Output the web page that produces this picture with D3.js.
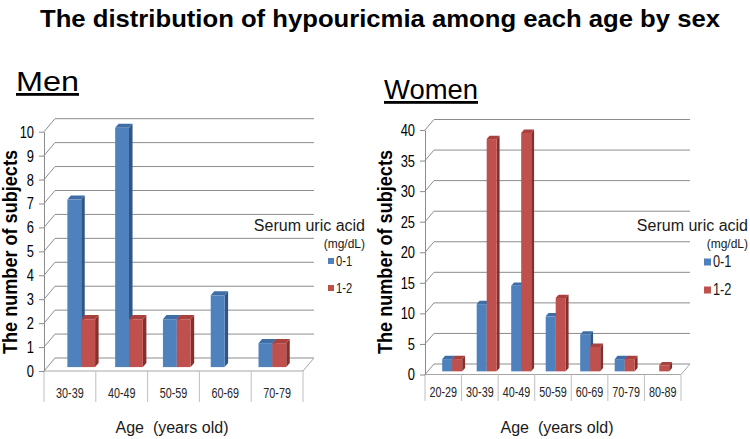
<!DOCTYPE html>
<html>
<head>
<meta charset="utf-8">
<script src="https://cdn.jsdelivr.net/npm/d3@7"></script>
<style>
  body { margin: 0; background: #fff; }
  text { font-family: "Liberation Sans", Arial, sans-serif; }
</style>
</head>
<body>
<div id="plot"></div>
<script>
// data
let seriesNames = ['0-1', '1-2'];

let menAges = ['30-39', '40-49', '50-59', '60-69', '70-79'];
let menLow = [7, 10, 2, 3, 1];   // serum uric acid 0-1
let menHigh = [2, 2, 2, 0, 1];   // serum uric acid 1-2
let menTicks = [0, 1, 2, 3, 4, 5, 6, 7, 8, 9, 10];

let womenAges = ['20-29', '30-39', '40-49', '50-59', '60-69', '70-79', '80-89'];
let womenLow = [2, 11, 14, 9, 6, 2, 0];
let womenHigh = [2, 38, 39, 12, 4, 2, 1];
let womenTicks = [0, 5, 10, 15, 20, 25, 30, 35, 40];

let width = 750, height = 439;

const colors = d3.scaleOrdinal()
  .domain(seriesNames)
  .range([
    { front: '#4f81bd', top: '#3f6ea6', side: '#2f5687' },
    { front: '#c0504d', top: '#a9413e', side: '#85302d' }
  ]);

let svg = d3.select('#plot')
  .append('svg')
  .attr('width', width)
  .attr('height', height)
  .style('background', '#fff');

svg.append('text')
  .attr('x', 380)
  .attr('y', 27)
  .attr('text-anchor', 'middle')
  .attr('font-size', 24)
  .attr('font-weight', 'bold')
  .attr('textLength', 680)
  .attr('lengthAdjust', 'spacingAndGlyphs')
  .text('The distribution of hypouricmia among each age by sex');

function drawPanel(p) {
  let g = svg.append('g');

  let yScale = d3.scaleLinear()
    .domain([0, p.max])
    .range([p.y0, p.yTop]);

  let xScale = d3.scaleBand()
    .domain(p.ages)
    .range([p.x0, p.x1]);

  let groupScale = d3.scaleBand()
    .domain(p.ages)
    .range([p.x0, p.x1])
    .padding(0.42);

  let subScale = d3.scaleBand()
    .domain(seriesNames)
    .range([0, groupScale.bandwidth()]);

  // project a front point back by fraction f of the depth
  let pt = (x, y, f) => [x + f * p.dx, y + f * p.dy];

  // walls: side diagonal + back gridline for each tick
  p.ticks.forEach(t => {
    let y = yScale(t);
    let b = pt(p.x0, y, 1);
    g.append('path')
      .attr('d', `M${p.x0},${y}L${b[0]},${b[1]}L${p.x1 + p.dx},${b[1]}`)
      .attr('fill', 'none')
      .attr('stroke', '#8c8c8c')
      .attr('stroke-width', 1);
  });

  // floor front edge and right diagonal
  let fr = pt(p.x1, p.y0, 1);
  g.append('path')
    .attr('d', `M${p.x0},${p.y0}L${p.x1},${p.y0}L${fr[0]},${fr[1]}`)
    .attr('fill', 'none')
    .attr('stroke', '#a6a6a6');

  // category label boxes
  let edges = p.ages.map(a => xScale(a)).concat([p.x1]);
  g.selectAll('.div')
    .data(edges)
    .enter()
    .append('line')
    .attr('x1', d => d).attr('x2', d => d)
    .attr('y1', p.y0).attr('y2', p.boxBottom)
    .attr('stroke', '#bfbfbf');

  // condensed look: squeeze the labels horizontally
  g.selectAll('.cat')
    .data(p.ages)
    .enter()
    .append('text')
    .attr('transform', d => `translate(${xScale(d) + xScale.bandwidth() / 2},${p.boxBottom - 4}) scale(0.72,1)`)
    .attr('text-anchor', 'middle')
    .attr('font-size', 15)
    .attr('fill', '#262626')
    .text(d => d);

  // y axis on front edge
  let yAxis = g.append('g')
    .attr('transform', `translate(${p.x0},0)`)
    .call(d3.axisLeft(yScale).tickValues(p.ticks).tickSize(5).tickSizeOuter(0).tickPadding(4));
  yAxis.select('.domain').attr('stroke', '#8c8c8c');
  yAxis.selectAll('.tick line').attr('stroke', '#8c8c8c');
  yAxis.selectAll('.tick text')
    .attr('x', null)
    .attr('transform', 'translate(-10,0) scale(0.76,1)')
    .attr('font-size', 17)
    .attr('fill', '#000');

  // 3d bars
  let f0 = 0.3, f1 = 0.62;
  let rows = [];
  p.ages.forEach((a, i) => {
    seriesNames.forEach((s, j) => {
      rows.push({ age: a, series: s, value: [p.low, p.high][j][i] });
    });
  });

  rows.filter(d => d.value > 0).forEach(d => {
    let xa = groupScale(d.age) + subScale(d.series);
    let xb = xa + subScale.bandwidth();
    let yv = yScale(d.value), yb = yScale(0);
    let c = colors(d.series);
    let poly = pts => pts.map(q => q.join(',')).join(' ');
    let bar = g.append('g');
    bar.append('polygon')
      .attr('points', poly([pt(xb, yv, f0), pt(xb, yb, f0), pt(xb, yb, f1), pt(xb, yv, f1)]))
      .attr('fill', c.side);
    bar.append('polygon')
      .attr('points', poly([pt(xa, yv, f0), pt(xb, yv, f0), pt(xb, yv, f1), pt(xa, yv, f1)]))
      .attr('fill', c.top);
    let fa = pt(xa, yv, f0);
    bar.append('rect')
      .attr('x', fa[0])
      .attr('y', fa[1])
      .attr('width', xb - xa)
      .attr('height', yb - yv)
      .attr('fill', c.front);
  });

  // panel title (underlined)
  g.append('text')
    .attr('x', p.titleX)
    .attr('y', p.titleY)
    .attr('font-size', 28)
    .attr('text-decoration', 'underline')
    .attr('textLength', p.titleLen)
    .attr('lengthAdjust', 'spacingAndGlyphs')
    .text(p.title);

  // axis titles
  g.append('text')
    .attr('transform', `translate(${p.yTitleX},${p.yTitleY}) rotate(-90)`)
    .attr('text-anchor', 'middle')
    .attr('font-size', 20)
    .attr('font-weight', 'bold')
    .attr('textLength', 204)
    .attr('lengthAdjust', 'spacingAndGlyphs')
    .text('The number of subjects');

  g.append('text')
    .attr('x', p.xTitleX)
    .attr('y', 433)
    .attr('text-anchor', 'middle')
    .attr('font-size', 16)
    .attr('fill', '#1a1a1a')
    .attr('xml:space', 'preserve')
    .text('Age  (years old)');

  // legend
  let lg = g.append('g');
  lg.append('text')
    .attr('x', p.legX)
    .attr('y', p.legY)
    .attr('text-anchor', 'end')
    .attr('font-size', 16)
    .attr('fill', '#1a1a1a')
    .text('Serum uric acid');
  lg.append('text')
    .attr('x', p.legX)
    .attr('y', p.legY + 17)
    .attr('text-anchor', 'end')
    .attr('font-size', 12)
    .attr('fill', '#1a1a1a')
    .text('(mg/dL)');
  seriesNames.forEach((s, j) => {
    let cy = p.keyY + j * p.keyGap;
    lg.append('rect')
      .attr('x', p.keyX)
      .attr('y', cy - p.keySize / 2)
      .attr('width', p.keySize)
      .attr('height', p.keySize)
      .attr('fill', colors(s).front);
    lg.append('text')
      .attr('transform', `translate(${p.keyX + p.keySize + 2},${cy + 5}) scale(0.8,1)`)
      .attr('font-size', p.keyFont)
      .attr('fill', '#1a1a1a')
      .text(s);
  });
}

drawPanel({
  title: 'Men', titleX: 16, titleY: 91, titleLen: 63,
  ages: menAges, low: menLow, high: menHigh, ticks: menTicks, max: 10,
  x0: 44, x1: 303, y0: 371, yTop: 131.7, dx: 11, dy: -13, boxBottom: 402,
  yTitleX: 17, yTitleY: 252, xTitleX: 172,
  legX: 365, legY: 231, keyX: 328, keyY: 261, keyGap: 27, keySize: 6, keyFont: 14
});

drawPanel({
  title: 'Women', titleX: 384, titleY: 99, titleLen: 94,
  ages: womenAges, low: womenLow, high: womenHigh, ticks: womenTicks, max: 40,
  x0: 425, x1: 681, y0: 374.5, yTop: 130, dx: 9, dy: -10.5, boxBottom: 401,
  yTitleX: 392, yTitleY: 252, xTitleX: 557,
  legX: 748, legY: 231, keyX: 704, keyY: 262, keyGap: 28, keySize: 7, keyFont: 16
});
</script>
</body>
</html>
